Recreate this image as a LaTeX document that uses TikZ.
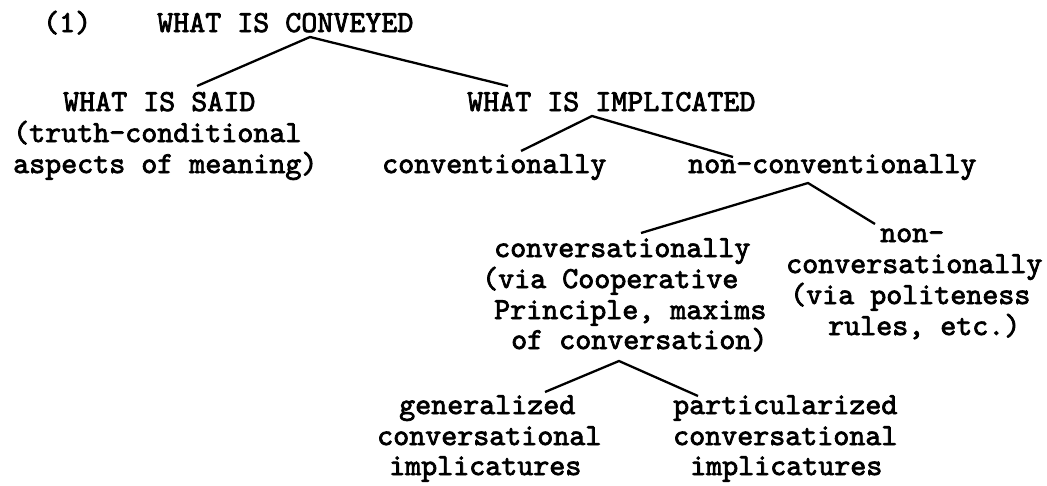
\documentclass[tikz,border=0pt]{standalone}
\usepackage{fontspec}
\usepackage{tikz}
\usetikzlibrary{positioning}
\newfontfamily\typewriter{lmmono10-regular.otf}[FakeBold=2.5]

\begin{document}
\begin{tikzpicture}[x=1pt,y=1pt]
			\tikzstyle{every node}+=[inner sep=0pt,anchor=base west,font=\typewriter\fontsize{30.5}{30.7}\selectfont]
			\tikzstyle{branch}=[black,line width=2.3pt]
			\useasboundingbox (0,0) rectangle (1047,-485);
			\node (num) at (43,-32) {(1)};
			\node (conveyed) at (157,-32) {WHAT IS CONVEYED};
			\node (said) at (63,-111) {WHAT IS SAID};
			\node (said-2) at (13,-142) {(truth-conditional};
			\node (said-3) at (13,-173) {aspects of meaning)};
			\node (implicated) at (467,-111) {WHAT IS IMPLICATED};
			\node (conv) at (382,-173) {conventionally};
			\node (nonconv) at (688,-173) {non-conventionally};
			\node (convers) at (494,-257) {conversationally};
			\node (convers-2) at (482,-288) {(via Cooperative};
			\node (convers-3) at (494,-319) {Principle, maxims};
			\node (convers-4) at (511,-349) {of conversation)};
			\node (nonconvers) at (880,-242) {non-};
			\node (nonconvers-2) at (786,-273) {conversationally};
			\node (nonconvers-3) at (790,-304) {(via politeness};
			\node (nonconvers-4) at (828,-335) {rules, etc.)};
			\node (gen) at (399,-414) {generalized};
			\node (gen-2) at (377,-445) {conversational};
			\node (gen-3) at (389,-475) {implicatures};
			\node (part) at (673,-414) {particularized};
			\node (part-2) at (673,-445) {conversational};
			\node (part-3) at (690,-475) {implicatures};
			\draw [branch] ([shift={(134,25)}]said.base west) -- ([shift={(153,-5)}]conveyed.base west) -- ([shift={(41,25)}]implicated.base west);
			\draw [branch] ([shift={(139,22)}]conv.base west) -- ([shift={(125,-5)}]implicated.base west) -- ([shift={(45,16)}]nonconv.base west);
			\draw [branch] ([shift={(147,24)}]convers.base west) -- ([shift={(120,-10)}]nonconv.base west) -- ([shift={(-5,18)}]nonconvers.base west);
			\draw [branch] ([shift={(146,22)}]gen.base west) -- ([shift={(108,-12)}]convers-4.base west) -- ([shift={(25,18)}]part.base west);
\end{tikzpicture}
\end{document}
